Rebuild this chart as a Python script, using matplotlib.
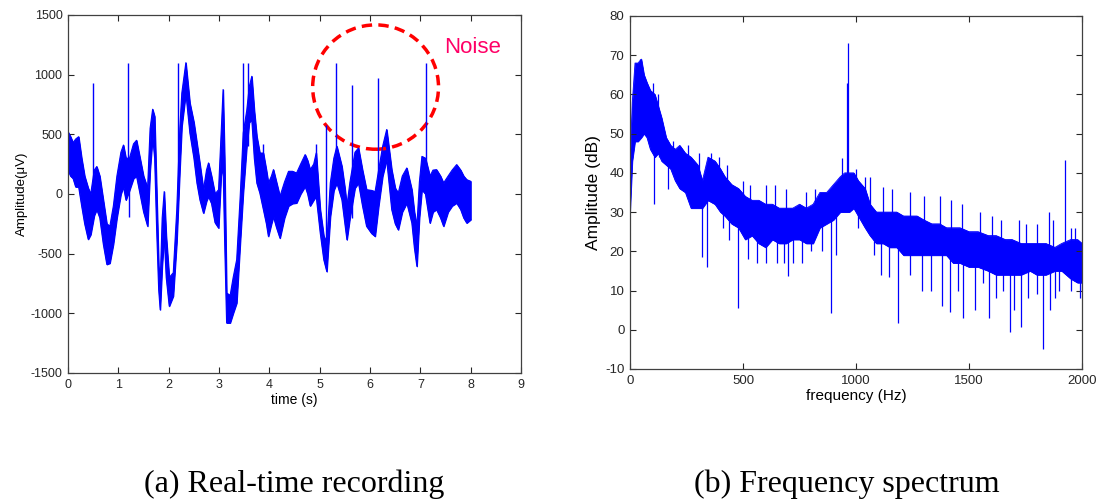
import matplotlib
matplotlib.use("Agg")
import matplotlib.pyplot as plt
from matplotlib.patches import Ellipse

plt.rcParams['font.family'] = ['Liberation Sans', 'DejaVu Sans']
plt.rcParams['axes.unicode_minus'] = False

# COLORS -----------
blue = "#0000FF"
noise_red = "#FF0000"
noise_text = "#FF0066"
axis_grey = "#404040"

# ---- (a) real-time recording ----
# band of the recording: time (s), upper edge, lower edge (uV)
rec_t = [0.00, 0.05, 0.10, 0.15, 0.21, 0.27, 0.33, 0.40, 0.45, 0.52,
         0.57, 0.63, 0.70, 0.77, 0.83, 0.90, 0.97, 1.05, 1.10, 1.15,
         1.22, 1.30, 1.36, 1.43, 1.50, 1.58, 1.63, 1.68, 1.72, 1.76,
         1.80, 1.83, 1.87, 1.91, 1.95, 2.01, 2.09, 2.16, 2.22, 2.26,
         2.34, 2.42, 2.50, 2.56, 2.62, 2.69, 2.75, 2.79, 2.85, 2.92,
         2.99, 3.04, 3.08, 3.11, 3.15, 3.22, 3.28, 3.35, 3.42, 3.48,
         3.55, 3.60, 3.65, 3.70, 3.75, 3.81, 3.88, 3.94, 3.98, 4.04,
         4.08, 4.14, 4.21, 4.30, 4.38, 4.46, 4.54, 4.62, 4.71, 4.76,
         4.81, 4.88, 4.93, 5.01, 5.08, 5.14, 5.21, 5.28, 5.34, 5.44,
         5.50, 5.54, 5.60, 5.70, 5.77, 5.85, 5.93, 6.03, 6.10, 6.17,
         6.25, 6.33, 6.43, 6.50, 6.56, 6.64, 6.73, 6.83, 6.88, 6.93,
         6.98, 7.03, 7.10, 7.19, 7.25, 7.32, 7.40, 7.46, 7.55, 7.63,
         7.72, 7.80, 7.86, 7.92, 8.00]
rec_up = [520, 480, 430, 460, 480, 300, 150, 50, 0, 200,
          230, 150, -50, -250, -270, -100, 150, 350, 410, 300,
          300, 420, 450, 300, 150, 50, 550, 710, 650, 30,
          -600, -745, -200, 20, -350, -700, -660, -130, 550, 846,
          1100, 763, 600, 427, 250, 36, 200, 260, 150, 0,
          36, 500, 875, 300, -830, -850, -700, -550, -20, 511,
          700, 900, 986, 700, 483, 343, 343, 200, 92, 150,
          204, 100, -20, 100, 190, 190, 176, 250, 330, 280,
          204, 250, 343, -130, -350, -410, 92, 300, 400, 232,
          50, -100, 100, 350, 385, 200, 36, 30, 20, 200,
          400, 540, 204, 50, 8, 150, 218, 36, -150, -270,
          100, 315, 300, 150, 200, 204, 150, 92, 150, 200,
          246, 200, 150, 120, 106]
rec_lo = [200, 150, 130, 60, 60, -100, -250, -380, -340, -180,
          -130, -200, -420, -590, -580, -420, -200, 0, 60, -50,
          30, 130, 150, 0, -150, -270, 200, 480, 300, -300,
          -800, -970, -600, -355, -700, -940, -855, -400, 200, 567,
          846, 511, 300, 92, -50, -160, -60, -20, -80, -240,
          -285, 150, 230, -383, -1080, -1080, -1000, -913, -410, 8,
          400, 600, 623, 300, 92, 8, -130, -250, -355, -250,
          -190, -280, -370, -200, -100, -80, -75, 0, 64, 0,
          -100, -50, -20, -327, -550, -650, -190, 30, 92, -48,
          -250, -383, -200, 50, 92, -100, -270, -330, -355, -100,
          150, 288, -130, -250, -300, -150, -75, -243, -450, -606,
          -200, 36, 0, -243, -150, -130, -200, -270, -150, -100,
          -75, -130, -200, -243, -215]

# isolated noise spikes: time, foot, tip
spike_t    = [0.49, 1.19, 1.22, 2.18, 3.48, 3.58, 3.88, 4.93, 5.12, 5.33,
              5.64, 6.15, 7.12]
spike_foot = [0, 150, 100, 0, 200, 400, 100, 100, -400, 150,
              -200, 0, 100]
spike_tip  = [930, 1100, -190, 1100, 1100, 1100, 420, 420, 580, 1100,
              910, 975, 1100]

# ---- (b) frequency spectrum ----
spec_f = [0, 10, 22, 35, 50, 62, 75, 90, 110, 125,
          140, 160, 180, 200, 220, 245, 270, 300, 320, 345,
          376, 400, 420, 450, 480, 510, 540, 570, 600, 630,
          660, 690, 720, 750, 780, 810, 840, 870, 900, 930,
          950, 970, 990, 1010, 1040, 1062, 1090, 1120, 1150, 1180,
          1210, 1240, 1270, 1300, 1335, 1370, 1400, 1430, 1460, 1500,
          1540, 1585, 1620, 1660, 1690, 1730, 1770, 1800, 1840, 1880,
          1910, 1950, 1980, 2000]
spec_up = [43, 58, 68, 68, 69, 65, 63, 61, 60, 57,
           54, 49, 47, 46, 47, 45, 44, 42, 38, 44,
           43, 41, 39, 37, 36, 34, 33, 33, 32, 32,
           31, 31, 31, 32, 31, 32, 35, 35, 37, 39,
           40, 40, 40, 38, 36, 32, 30, 30, 30, 30,
           29, 29, 29, 28, 27, 27, 26, 26, 26, 25,
           25, 24, 24, 23, 23, 22, 22, 22, 22, 21,
           22, 23, 23, 22]
spec_lo = [30, 43, 48, 48, 49, 50, 49, 46, 44, 45,
           43, 42, 41, 38, 36, 35, 31, 31, 31, 33,
           32, 30, 29, 27, 26, 23, 24, 22, 21, 23,
           22, 22, 23, 23, 22, 22, 26, 27, 28, 30,
           30, 30, 31, 29, 26, 24, 22, 22, 21, 21,
           19, 19, 19, 19, 19, 19, 19, 17, 17, 16,
           16, 15, 14, 14, 14, 14, 15, 14, 14, 15,
           15, 13, 12, 12]

# single lines sticking out of the band: frequency, foot, tip (dB)
peak_f    = [45, 108, 170, 320, 340, 476, 560, 640, 650, 700,
             760, 889, 936, 958, 966, 1060, 1120, 1145, 1184, 1290,
             1379, 1416, 1475, 1527, 1588, 1681, 1730, 1829, 1855, 1900,
             1925, 1990,
             100, 125, 190, 255, 305, 360, 395, 430, 500, 530,
             600, 690, 780, 820, 1000, 1040, 1160, 1240, 1300, 1370,
             1420, 1470, 1550, 1600, 1640, 1720, 1750, 1800, 1870, 1950,
             1970,
             130, 230, 280, 410, 440, 520, 600, 680, 720, 800,
             850, 910, 1010, 1080, 1110, 1240, 1330, 1450, 1560, 1620,
             1650, 1700, 1760, 1800, 1860, 1880, 1950, 2000]
peak_foot = [55, 50, 42, 32, 35, 28, 25, 25, 25, 24,
             25, 30, 35, 35, 35, 30, 26, 24, 24, 23,
             22, 22, 20, 20, 19, 19, 18, 18, 18, 18,
             20, 18,
             55, 52, 44, 40, 38, 38, 38, 35, 32, 30,
             28, 27, 27, 27, 35, 32, 26, 25, 24, 23,
             23, 22, 21, 20, 20, 19, 19, 19, 18, 18,
             18,
             48, 40, 36, 33, 30, 27, 25, 25, 26, 26,
             29, 31, 32, 26, 25, 23, 22, 21, 20, 19,
             19, 18, 18, 18, 18, 18, 17, 17]
peak_tip  = [69, 32, 36, 18.6, 16, 5.5, 17, 37, 17, 13.6,
             17, 4.2, 43.7, 62.8, 73, 39, 36.5, 13.5, 1.7, 10,
             6, 4.6, 3, 5, 3, -0.5, 0.8, -5, 30, 10,
             43.3, 8,
             63, 60, 48, 47, 45, 45, 44, 42, 38, 37,
             37, 36, 35, 36, 41, 39, 36, 35, 34, 34,
             33, 32, 30, 29, 28, 28, 27, 27, 28, 26,
             26,
             44, 36, 33, 26, 23, 18, 17, 17, 17, 20,
             20, 19, 26, 19, 14, 14, 10, 10, 12, 8,
             10, 5, 8, 9, 5, 8, 10, 10]


def style_axes(ax, fs):
    ax.tick_params(direction="in", top=True, right=True, length=4,
                   width=0.8, labelsize=fs, colors="#262626", pad=4)
    for s in ax.spines.values():
        s.set_color(axis_grey)
        s.set_linewidth(0.9)


def main():
    fig = plt.figure(figsize=(11.03, 5.01), dpi=100)

    # (a) recording
    ax1 = fig.add_axes([0.0617, 0.2555, 0.4107, 0.7146])
    ax1.fill_between(rec_t, rec_lo, rec_up, color=blue, linewidth=0.8)
    ax1.plot(rec_t, rec_up, color=blue, linewidth=0.8)
    ax1.plot(rec_t, rec_lo, color=blue, linewidth=0.8)
    ax1.vlines(spike_t, spike_foot, spike_tip, color=blue, linewidth=1.0)
    ax1.set_xlim(0, 9)
    ax1.set_ylim(-1500, 1500)
    ax1.set_xticks(range(0, 10))
    ax1.set_yticks(range(-1500, 1501, 500))
    style_axes(ax1, 9)
    ax1.set_xlabel("time (s)", fontsize=10, labelpad=2)
    ax1.set_ylabel("Amplitude(μV)", fontsize=9.5, labelpad=2)

    ax1.add_patch(Ellipse((6.11, 896), 2.5, 1042, fill=False,
                          edgecolor=noise_red, linewidth=2.5,
                          linestyle=(0, (3, 1.8))))
    ax1.text(7.47, 1230, "Noise", color=noise_text, fontsize=16,
             ha="left", va="center")

    # (b) spectrum
    ax2 = fig.add_axes([0.5712, 0.2635, 0.4098, 0.7046])
    ax2.fill_between(spec_f, spec_lo, spec_up, color=blue, linewidth=0.6)
    ax2.plot(spec_f, spec_up, color=blue, linewidth=0.6)
    ax2.plot(spec_f, spec_lo, color=blue, linewidth=0.6)
    ax2.vlines(peak_f, peak_foot, peak_tip, color=blue, linewidth=0.9)
    ax2.set_xlim(0, 2000)
    ax2.set_ylim(-10, 80)
    ax2.set_xticks(range(0, 2001, 500))
    ax2.set_yticks(range(-10, 81, 10))
    style_axes(ax2, 9.5)
    ax2.set_xlabel("frequency (Hz)", fontsize=11, labelpad=2)
    ax2.set_ylabel("Amplitude (dB)", fontsize=12.5, labelpad=3)

    # captions
    cap = dict(family=["Liberation Serif", "DejaVu Serif"], fontsize=23,
               ha="center", va="center", color="black")
    fig.text(0.267, 0.033, "(a) Real-time recording", **cap)
    fig.text(0.768, 0.033, "(b) Frequency spectrum", **cap)

    fig.savefig("out.png", dpi=100)


if __name__ == "__main__":
    main()
